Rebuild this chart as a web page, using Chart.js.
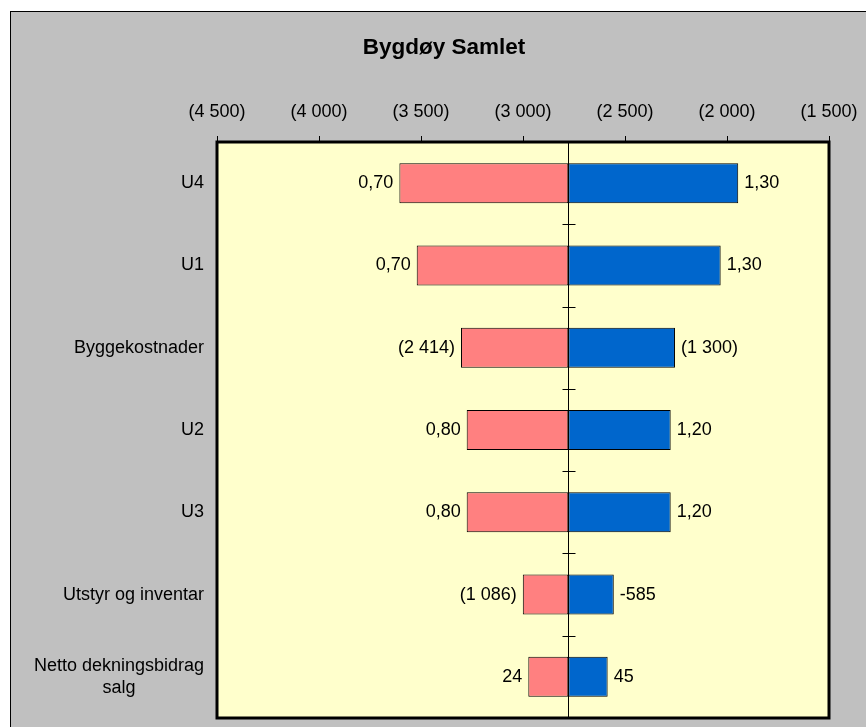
<!DOCTYPE html>
<html><head><meta charset="utf-8">
<script src="https://cdn.jsdelivr.net/npm/chart.js@4"></script>
<style>
html,body{margin:0;padding:0;background:#fff;overflow:hidden;width:866px;height:727px;}
#frame{position:absolute;left:10px;top:11px;width:900px;height:800px;border:1px solid #000;background:#c0c0c0;}
#wrap{position:absolute;left:0;top:0;width:866px;height:727px;}
</style></head><body>
<div id="frame"></div>
<div id="wrap"><canvas id="c" width="866" height="727"></canvas></div>
<script>
const chartTitle = 'Bygdøy Samlet';
const categories = [['U4'], ['U1'], ['Byggekostnader'], ['U2'], ['U3'], ['Utstyr og inventar'], ['Netto dekningsbidrag', 'salg']];
const baseValue = -2778;
const lowValues = [-3606, -3521, -3304, -3276, -3276, -3001, -2974];
const highValues = [-1945, -2031, -2255, -2276, -2276, -2555, -2585];
const lowLabels = ['0,70', '0,70', '(2 414)', '0,80', '0,80', '(1 086)', '24'];
const highLabels = ['1,30', '1,30', '(1 300)', '1,20', '1,20', '-585', '45'];
const xTickValues = [-4500, -4000, -3500, -3000, -2500, -2000, -1500];
const xTickLabels = ['(4 500)', '(4 000)', '(3 500)', '(3 000)', '(2 500)', '(2 000)', '(1 500)'];

const FONT = '"Liberation Sans", Arial, sans-serif';

const tornado = {
  id: 'tornado',
  beforeDraw(chart) {
    const a = chart.chartArea, ctx = chart.ctx;
    ctx.save();
    ctx.fillStyle = '#FFFFCC';
    ctx.fillRect(a.left, a.top, a.right - a.left, a.bottom - a.top);
    // title
    ctx.fillStyle = '#000';
    ctx.font = 'bold 22.5px ' + FONT;
    ctx.textAlign = 'center';
    ctx.textBaseline = 'middle';
    ctx.fillText(chartTitle, 444, 48);
    ctx.restore();
  },
  afterDatasetsDraw(chart) {
    const a = chart.chartArea, ctx = chart.ctx;
    const xs = chart.scales.x, ys = chart.scales.y;
    ctx.save();
    // centre line
    const cx = Math.round(xs.getPixelForValue(baseValue)) + 0.5;
    ctx.strokeStyle = '#000';
    ctx.lineWidth = 1;
    ctx.beginPath();
    ctx.moveTo(cx, a.top);
    ctx.lineTo(cx, a.bottom);
    // category boundary ticks
    for (let i = 1; i < categories.length; i++) {
      const y = Math.round((ys.getPixelForValue(i - 1) + ys.getPixelForValue(i)) / 2) + 0.5;
      ctx.moveTo(cx - 6, y);
      ctx.lineTo(cx + 7, y);
    }
    ctx.stroke();
    // value labels
    ctx.fillStyle = '#000';
    ctx.font = '18px ' + FONT;
    ctx.textBaseline = 'middle';
    const m0 = chart.getDatasetMeta(0), m1 = chart.getDatasetMeta(1);
    m0.data.forEach((el, i) => {
      ctx.textAlign = 'right';
      ctx.fillText(lowLabels[i], Math.min(el.x, el.base) - 6, el.y);
    });
    m1.data.forEach((el, i) => {
      ctx.textAlign = 'left';
      ctx.fillText(highLabels[i], Math.max(el.x, el.base) + 6, el.y);
    });
    // category labels
    const right = a.left - 13;
    const lh = 21.6;
    categories.forEach((lines, i) => {
      const yc = ys.getPixelForValue(i);
      let maxW = 0;
      lines.forEach(l => { maxW = Math.max(maxW, ctx.measureText(l).width); });
      const center = right - maxW / 2;
      ctx.textAlign = 'center';
      lines.forEach((l, k) => {
        const y = yc + (k - (lines.length - 1) / 2) * lh;
        ctx.fillText(l, center, y);
      });
    });
    // plot border
    ctx.lineWidth = 3;
    ctx.strokeStyle = '#000';
    ctx.strokeRect(a.left, a.top, a.right - a.left, a.bottom - a.top);
    ctx.restore();
  }
};

new Chart(document.getElementById('c'), {
  type: 'bar',
  data: {
    labels: categories.map(c => c.join(' ')),
    datasets: [
      {
        data: lowValues.map(v => [baseValue, v]),
        backgroundColor: '#FF8080',
        borderColor: '#000',
        borderWidth: 1,
        borderSkipped: false,
        grouped: false,
        barPercentage: 0.486,
        categoryPercentage: 1
      },
      {
        data: highValues.map(v => [baseValue, v]),
        backgroundColor: '#0066CC',
        borderColor: '#000',
        borderWidth: 1,
        borderSkipped: false,
        grouped: false,
        barPercentage: 0.486,
        categoryPercentage: 1
      }
    ]
  },
  options: {
    indexAxis: 'y',
    responsive: false,
    animation: false,
    devicePixelRatio: 1,
    layout: { padding: { left: 0, right: 37, top: 102, bottom: 9 } },
    plugins: {
      legend: { display: false },
      tooltip: { enabled: false },
      title: { display: false }
    },
    scales: {
      x: {
        position: 'top',
        min: -4500,
        max: -1500,
        afterFit: s => { s.height = 40; s.paddingLeft = 0; s.paddingRight = 0; },
        ticks: {
          stepSize: 500,
          autoSkip: false,
          maxRotation: 0,
          color: '#000',
          padding: 13,
          font: { family: FONT, size: 18 },
          callback: v => { const k = xTickValues.indexOf(v); return k >= 0 ? xTickLabels[k] : ''; }
        },
        grid: { display: true, drawOnChartArea: false, drawTicks: true, tickLength: 6, color: '#000', lineWidth: 1 },
        border: { display: false }
      },
      y: {
        type: 'category',
        offset: true,
        afterFit: s => { s.width = 217; },
        ticks: { display: false },
        grid: { display: false },
        border: { display: false }
      }
    }
  },
  plugins: [tornado]
});
</script>
</body></html>
